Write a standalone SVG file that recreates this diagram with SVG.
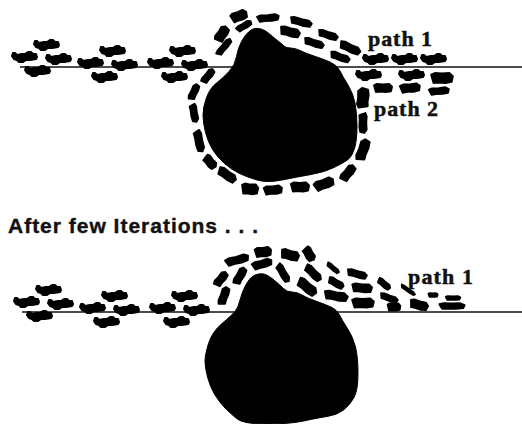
<svg xmlns="http://www.w3.org/2000/svg" width="522" height="424" viewBox="0 0 522 424">
<style>
text{font-family:"Liberation Serif",serif;font-weight:bold;font-size:22px;fill:#111;stroke:#111;stroke-width:.5}
.h{font-family:"Liberation Sans",sans-serif;font-size:21px;stroke-width:.4}
line{stroke:#111;stroke-width:1.6}
.s{stroke:#000;stroke-width:2;stroke-linejoin:round;vector-effect:non-scaling-stroke}
</style>
<defs>
<path id="a" class="s" d="M-12-4h2l2 2 5-1 3 0 3-2h3l2 2 3 0 1 3-1 2-6 1-4 0-3 2h-4l-2-2-3-1-2-3z"/>
<path id="b" class="s" d="M-9-3-6-4.500 0-4 6-4.500 9-1.500 8 3.500 3 4.500-3 4-7 4.500Z"/>
<g id="ants">
<use href="#a" x="47" y="45"/><use href="#a" x="25" y="57"/><use href="#a" x="59" y="59"/><use href="#a" x="38" y="71"/>
<use href="#a" x="113" y="51"/><use href="#a" x="91" y="63"/><use href="#a" x="125" y="65"/><use href="#a" x="105" y="77"/>
<use href="#a" x="183" y="51"/><use href="#a" x="161" y="63"/><use href="#a" x="195" y="65"/><use href="#a" x="175" y="77"/>
</g>
</defs>
<rect width="522" height="424" fill="#fff"/>
<g id="top-scene">
<line x1="20" y1="67" x2="522" y2="67"/>
<path id="obstacle-top" stroke="#000" d="M261 29Q265 30 269 33.500Q273 37 277.500 40.500Q282 44 284 46Q286 48 290.500 48Q295 48 300 50.500Q305 53 314 56Q323 59 330 62Q337 65 340 71Q343 77 348 85Q353 93 355 103Q357 113 357 126.500Q357 140 354.500 148.500Q352 157 347.500 160Q343 163 334 167.500Q325 172 311 174.500Q297 177 282 180Q267 183 257 180Q247 177 239.500 173.500Q232 170 224.500 163.500Q217 157 212.500 149.500Q208 142 205.500 132.500Q203 123 203 115Q203 107 206.500 97.500Q210 88 216.500 83Q223 78 229 71.500Q235 65 236.500 56.500Q238 48 241.500 41.500Q245 35 248.500 32Q252 29 254.500 28.500Q257 28 261 29Z"/>
<use href="#ants"/>
<g id="path1-top">
<use href="#b" transform="translate(239 16) rotate(-20) scale(.9 1)"/>
<use href="#b" transform="translate(244 26) rotate(-30) scale(.9 .6)"/>
<use href="#b" transform="translate(268 18) rotate(-5) scale(1.2 .7)"/>
<use href="#b" transform="translate(301 22) rotate(15) scale(1.2 .7)"/>
<use href="#b" transform="translate(290 32) rotate(15) scale(1.1 .9)"/>
<use href="#b" transform="translate(328 35) rotate(18) scale(1.1 .7)"/>
<use href="#b" transform="translate(314 43) rotate(18) scale(1.1 .7)"/>
<use href="#b" transform="translate(350 48) rotate(25) scale(1.2 .8)"/>
<use href="#b" transform="translate(340 57) rotate(20) scale(1.1 .7)"/>
<use href="#a" x="376" y="59"/><use href="#a" x="405" y="59"/><use href="#a" x="434" y="59"/>
</g>
<g id="path2-top">
<use href="#b" transform="translate(222 34) rotate(-55) scale(.9 1)"/>
<use href="#b" transform="translate(224 47) rotate(-50) scale(1.1 .6)"/>
<use href="#b" transform="translate(208 76) rotate(-50) scale(.9 .7)"/>
<use href="#b" transform="translate(194 92) rotate(-65) scale(.9 .7)"/>
<use href="#b" transform="translate(194 113) rotate(80) scale(1 .7)"/>
<use href="#b" transform="translate(199 141) rotate(78) scale(1.2 .8)"/>
<use href="#b" transform="translate(210 162) rotate(50) scale(.8 .9)"/>
<use href="#b" transform="translate(227 175) rotate(35) scale(1.1 .9)"/>
<use href="#b" transform="translate(250 189) rotate(5) scale(.9 1.1)"/>
<use href="#b" transform="translate(273 190) rotate(-5) scale(1 .9)"/>
<use href="#b" transform="translate(300 187) scale(1 1)"/>
<use href="#b" transform="translate(324 184) rotate(-20) scale(1.1 1)"/>
<use href="#b" transform="translate(348 173) rotate(-50) scale(1 .9)"/>
<use href="#b" transform="translate(363 150) rotate(-70) scale(1.2 1)"/>
<use href="#b" transform="translate(363 123) rotate(90) scale(1.1 .8)"/>
<use href="#b" transform="translate(363 98) rotate(-85) scale(1.1 1.2)"/>
<use href="#a" x="369" y="75"/><use href="#a" x="412" y="75"/>
<use href="#b" transform="translate(442 78) scale(1.2 1.1)"/>
<use href="#b" transform="translate(383 88) scale(1 .9)"/>
<use href="#b" transform="translate(410 88) rotate(-5) scale(1.1 .9)"/>
<use href="#b" transform="translate(439 91) rotate(-5) scale(1.1 .7)"/>
</g>
<text x="368" y="46" textLength="64">path 1</text>
<text x="374" y="116" textLength="64">path 2</text>
</g>
<text class="h" x="8" y="233" textLength="250">After few Iterations . . .</text>
<g id="bottom-scene">
<line x1="22" y1="312" x2="522" y2="312"/>
<path id="obstacle-bottom" stroke="#000" d="M264 274Q268 275 274 280Q280 285 283.500 288.500Q287 292 292 292Q297 292 302 295Q307 298 317 301.500Q327 305 332 307.500Q337 310 339.500 315Q342 320 347.500 328.500Q353 337 355.500 347Q358 357 358 373.500Q358 390 354 397.500Q350 405 343.500 410Q337 415 327 416.500Q317 418 303.500 421Q290 424 266 424Q243 424 236.500 418.500Q230 413 225 408Q220 403 215 395Q210 387 207.500 377Q205 367 205 361Q205 355 208.500 343.500Q212 332 222 323.500Q232 315 235 311.500Q238 308 240 300Q242 292 246 284.500Q250 277 255 275Q260 273 264 274Z"/>
<use href="#ants" x="2" y="245"/>
<g id="path1-bottom">
<use href="#b" transform="translate(237 260) rotate(-15) scale(1.3 .8)"/>
<use href="#b" transform="translate(263 252) rotate(-5) scale(.9 1)"/>
<use href="#b" transform="translate(262 264) rotate(-15) scale(1.1 .8)"/>
<use href="#b" transform="translate(290 255) rotate(15) scale(1 1)"/>
<use href="#b" transform="translate(309 254) rotate(60) scale(.8 .9)"/>
<use href="#b" transform="translate(221 279) rotate(-50) scale(.9 .8)"/>
<use href="#b" transform="translate(240 276) rotate(-60) scale(1 .8)"/>
<use href="#b" transform="translate(224 296) rotate(-70) scale(1 .8)"/>
<use href="#b" transform="translate(283 273) rotate(60) scale(1.1 .7)"/>
<use href="#b" transform="translate(313 273) rotate(45) scale(1.1 .8)"/>
<use href="#b" transform="translate(333 268) rotate(40) scale(.8 .4)"/>
<use href="#b" transform="translate(357 274) rotate(15) scale(1.1 .7)"/>
<use href="#b" transform="translate(307 287) rotate(40) scale(1.2 1)"/>
<use href="#b" transform="translate(336 283) rotate(30) scale(.9 .7)"/>
<use href="#b" transform="translate(362 288) rotate(5) scale(1.1 .9)"/>
<use href="#b" transform="translate(336 296) rotate(10) scale(1.3 .9)"/>
<use href="#b" transform="translate(363 303) scale(1.2 1)"/>
<use href="#b" transform="translate(384 284) rotate(40) scale(.8 .6)"/>
<use href="#b" transform="translate(408 290) rotate(35) scale(.9 .3)"/>
<use href="#b" transform="translate(389 298) rotate(20) scale(1 .6)"/>
<use href="#b" transform="translate(394 307) scale(.7 .8)"/>
<use href="#b" transform="translate(419 305) rotate(15) scale(1 .9)"/>
<use href="#b" transform="translate(433 295) scale(.5 .4)"/>
<use href="#b" transform="translate(453 298) scale(.8 .4)"/>
<use href="#b" transform="translate(452 306) scale(1.4 .6)"/>
</g>
<text x="408" y="284" textLength="65">path 1</text>
</g>
</svg>
